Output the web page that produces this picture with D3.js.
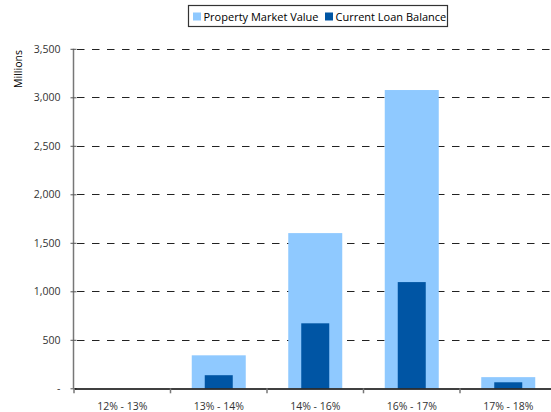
<!DOCTYPE html>
<html><head><meta charset="utf-8">
<script src="https://cdn.jsdelivr.net/npm/d3@7"></script>
<style>body{margin:0;background:#fff;}svg{display:block;font-family:"Open Sans",sans-serif;}</style>
</head><body>
<script>
const categories = ["12% - 13%","13% - 14%","14% - 16%","16% - 17%","17% - 18%"];
const propertyValue = [0, 340, 1600, 3075, 115];
const loanBalance = [0, 135, 670, 1095, 62];
const yTicks = [0,500,1000,1500,2000,2500,3000,3500];
const seriesNames = ["Property Market Value","Current Loan Balance"];
const colors = ["#8FC9FF","#0055A4"];

const W=551,H=412;
const svg=d3.select("body").append("svg").attr("width",W).attr("height",H);
const x=d3.scaleBand().domain(categories).range([74,556.5]).padding(0);
const y=d3.scaleLinear().domain([0,3500]).range([388.3,48.8]);
const bw=x.bandwidth();

// gridlines
svg.append("g").selectAll("line").data(yTicks.filter(d=>d>0)).join("line")
 .attr("x1",74).attr("x2",551).attr("y1",d=>Math.round(y(d))+0.5).attr("y2",d=>Math.round(y(d))+0.5)
 .attr("stroke","#222").attr("stroke-width",1).attr("stroke-dasharray","7.5,7.5").attr("stroke-dashoffset",-3);

// bars
svg.append("g").selectAll("rect").data(categories).join("rect")
 .attr("x",d=>x(d)+bw/2-27).attr("width",54)
 .attr("y",(d,i)=>y(propertyValue[i])).attr("height",(d,i)=>y(0)-y(propertyValue[i]))
 .attr("fill",colors[0]);
svg.append("g").selectAll("rect").data(categories).join("rect")
 .attr("x",d=>x(d)+bw/2-14).attr("width",28)
 .attr("y",(d,i)=>y(loanBalance[i])).attr("height",(d,i)=>y(0)-y(loanBalance[i]))
 .attr("fill",colors[1]);

// y axis
const yAxis=svg.append("g").attr("transform","translate(73.5,0)")
 .call(d3.axisLeft(y).tickValues(yTicks).tickSize(3).tickPadding(10).tickFormat(d=>d===0?"-":d3.format(",")(d)));
yAxis.select(".domain").attr("stroke","#777").attr("stroke-width",1.5).attr("d","M0,"+y(3500)+"V"+y(0));
yAxis.selectAll(".tick line").attr("stroke","#555").attr("x1",-3).attr("x2",3);
yAxis.selectAll("text").attr("font-size","10.5px").attr("fill","#333").attr("font-family","Open Sans");

// x axis
const xAxis=svg.append("g").attr("transform","translate(0,"+(Math.round(y(0))+0.5)+")")
 .call(d3.axisBottom(x).tickSize(0).tickPadding(14));
xAxis.select(".domain").attr("stroke","#000").attr("stroke-width",1.5);
xAxis.selectAll("text").attr("font-size","10.5px").attr("fill","#333").attr("font-family","Open Sans");
svg.append("g").selectAll("line").data(categories).join("line")
 .attr("x1",d=>x(d)).attr("x2",d=>x(d)).attr("y1",y(0)).attr("y2",y(0)+5)
 .attr("stroke","#777").attr("stroke-width",1.5);

// y label
svg.append("text").attr("transform","translate(22,69) rotate(-90)").attr("text-anchor","middle")
 .attr("font-size","10.5px").attr("fill","#000").text("Millions");

// legend
const lg=svg.append("g");
lg.append("rect").attr("x",188.5).attr("y",5.5).attr("width",259).attr("height",21)
 .attr("fill","#fff").attr("stroke","#333").attr("stroke-width",1.2);
const lx=[193,325];
seriesNames.forEach((n,i)=>{
 lg.append("rect").attr("x",lx[i]).attr("y",12.5).attr("width",8).attr("height",8).attr("fill",colors[i]);
 lg.append("text").attr("x",lx[i]+10.5).attr("y",20.5).attr("font-size","11px").attr("fill","#000").text(n);
});
</script>
</body></html>
